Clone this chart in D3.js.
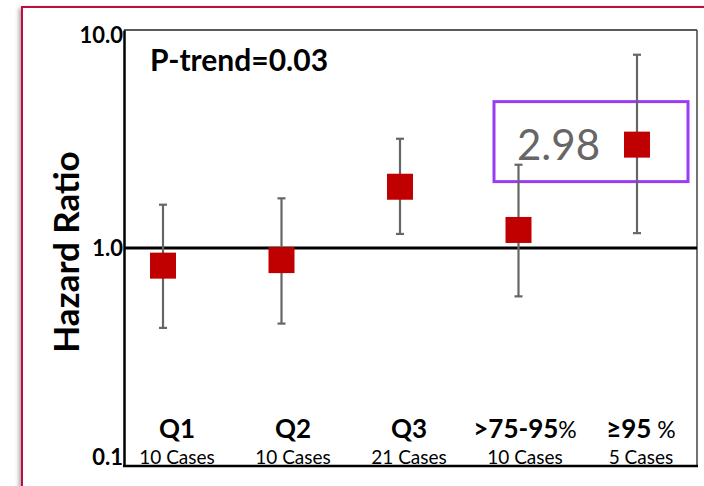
<!DOCTYPE html>
<html>
<head>
<meta charset="utf-8">
<script src="https://cdn.jsdelivr.net/npm/d3@7"></script>
<style>
  html, body { margin: 0; padding: 0; background: #fff; }
  svg { display: block; }
  text { font-family: Lato, "Open Sans", "Liberation Sans", sans-serif; }
</style>
</head>
<body>
<svg id="chart" width="704" height="486"></svg>
<script>
// Hazard ratios with 95% confidence intervals by exposure group
const groups = ["Q1", "Q2", "Q3", ">75-95", "≥95"];
const groupSuffix = ["", "", "", "%", " %"];
const cases = ["10 Cases", "10 Cases", "21 Cases", "10 Cases", "5 Cases"];
const hr = [0.83, 0.88, 1.91, 1.21, 2.98];
const ciLow = [0.43, 0.45, 1.16, 0.60, 1.17];
const ciHigh = [1.58, 1.69, 3.17, 2.41, 7.7];
const yTicks = [0.1, 1, 10];
const pTrend = "P-trend=0.03";
const highlightIndex = 4;

const svg = d3.select("#chart");

const plot = { left: 124, top: 30, right: 697, bottom: 466 };

// Outer slide frame with a soft shadow
const defs = svg.append("defs");
const shadow = defs.append("filter").attr("id", "shadow")
  .attr("x", "-10%").attr("y", "-10%").attr("width", "120%").attr("height", "120%");
shadow.append("feDropShadow").attr("dx", -2).attr("dy", 2)
  .attr("stdDeviation", 2).attr("flood-color", "#000").attr("flood-opacity", 0.35);

svg.append("rect")
  .attr("x", 22).attr("y", 7).attr("width", 700).attr("height", 500)
  .attr("fill", "#fff").attr("stroke", "#c0103c").attr("stroke-width", 2)
  .attr("filter", "url(#shadow)");

// Scales
const y = d3.scaleLog().domain([0.1, 10]).range([plot.bottom, plot.top]);
const x = d3.scalePoint().domain(groups).range([163, 637]);
const xLabel = d3.scalePoint().domain(groups).range([177, 641]);

// Plot frame
const g = svg.append("g");
g.append("line").attr("x1", plot.left).attr("x2", plot.right)
  .attr("y1", plot.top).attr("y2", plot.top)
  .attr("stroke", "#222").attr("stroke-width", 1.5);
g.append("line").attr("x1", plot.right).attr("x2", plot.right)
  .attr("y1", plot.top).attr("y2", plot.bottom)
  .attr("stroke", "#444").attr("stroke-width", 1.5);

// Y axis (log) with labels only
const yAxis = d3.axisLeft(y).tickValues(yTicks).tickSize(0).tickPadding(1)
  .tickFormat(d3.format(".1f"));
const ya = svg.append("g").attr("transform", `translate(${plot.left},0)`).call(yAxis);
ya.select(".domain").attr("stroke", "#000").attr("stroke-width", 2.5);
ya.selectAll(".tick text")
  .attr("fill", "#000")
  .style("font-size", "22px").style("font-weight", "bold")
  .attr("dy", d => d === 10 ? "0.55em" : d === 0.1 ? "-0.05em" : "0.35em");

// Bottom frame edge
g.append("line").attr("x1", plot.left - 1).attr("x2", plot.right + 1)
  .attr("y1", plot.bottom).attr("y2", plot.bottom)
  .attr("stroke", "#000").attr("stroke-width", 2.5);

// Reference line at HR = 1
svg.append("line")
  .attr("x1", plot.left).attr("x2", plot.right)
  .attr("y1", y(1)).attr("y2", y(1))
  .attr("stroke", "#000").attr("stroke-width", 3);

// Y axis title
svg.append("text")
  .attr("transform", `translate(79, 252) rotate(-90)`)
  .attr("text-anchor", "middle")
  .style("font-size", "35px").style("font-weight", "bold")
  .text("Hazard Ratio");

// P-trend annotation
svg.append("text")
  .attr("x", 150).attr("y", 71)
  .style("font-size", "30px").style("font-weight", "bold")
  .text(pTrend);

// Highlight box around the top group's estimate
const hx = x(groups[highlightIndex]);
const hy = y(hr[highlightIndex]);
svg.append("rect")
  .attr("x", hx - 143).attr("y", hy - 43)
  .attr("width", 194).attr("height", 80)
  .attr("fill", "none").attr("stroke", "#9b3cf5").attr("stroke-width", 3);
svg.append("text")
  .attr("x", hx - 120).attr("y", hy + 15)
  .attr("fill", "#666")
  .style("font-size", "42px")
  .text(d3.format(".2f")(hr[highlightIndex]));

// Error bars
const capHalf = 4;
const bars = svg.append("g").selectAll("g").data(groups).join("g")
  .attr("stroke", "#666").attr("stroke-width", 2.2);
bars.append("line")
  .attr("x1", d => x(d)).attr("x2", d => x(d))
  .attr("y1", (d, i) => y(ciLow[i])).attr("y2", (d, i) => y(ciHigh[i]));
bars.append("line")
  .attr("x1", d => x(d) - capHalf).attr("x2", d => x(d) + capHalf)
  .attr("y1", (d, i) => y(ciLow[i])).attr("y2", (d, i) => y(ciLow[i]));
bars.append("line")
  .attr("x1", d => x(d) - capHalf).attr("x2", d => x(d) + capHalf)
  .attr("y1", (d, i) => y(ciHigh[i])).attr("y2", (d, i) => y(ciHigh[i]));

// Point estimates
const sq = 26;
svg.append("g").selectAll("rect").data(groups).join("rect")
  .attr("x", d => x(d) - sq / 2)
  .attr("y", (d, i) => y(hr[i]) - sq / 2)
  .attr("width", sq).attr("height", sq)
  .attr("fill", "#c00000");

// Group labels
const labels = svg.append("g").selectAll("text").data(groups).join("text")
  .attr("x", d => xLabel(d)).attr("y", 438)
  .attr("text-anchor", "middle")
  .style("font-size", "26px").style("font-weight", "bold");
labels.append("tspan").text(d => d);
labels.append("tspan")
  .style("font-weight", "normal").style("font-size", "23px")
  .text((d, i) => groupSuffix[i]);

svg.append("g").selectAll("text").data(groups).join("text")
  .attr("x", d => xLabel(d)).attr("y", 464)
  .attr("text-anchor", "middle")
  .style("font-size", "19px")
  .text((d, i) => cases[i]);
</script>
</body>
</html>
